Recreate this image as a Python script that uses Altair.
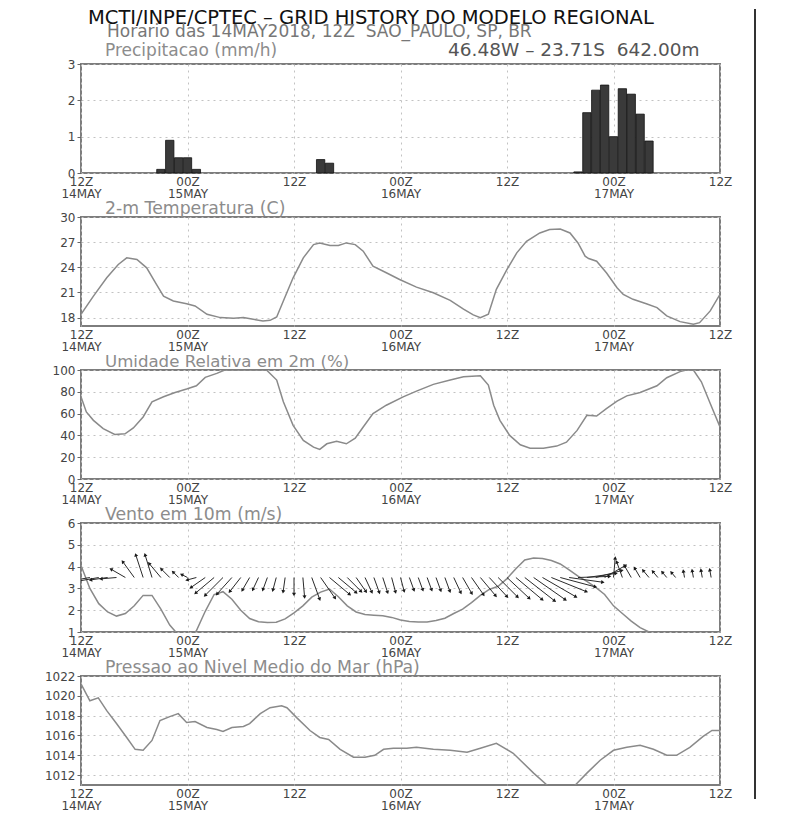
import altair as alt
import pandas as pd
import numpy as np

FONT = "DejaVu Sans"
NB = "\u00a0"

# ---------------- header texts ----------------
main_title = "MCTI/INPE/CPTEC – GRID HISTORY DO MODELO REGIONAL"
sub_title = "Horario das 14MAY2018, 12Z" + NB + NB + "SAO_PAULO, SP, BR"
location = "46.48W – 23.71S" + NB + NB + "642.00m"
panel_titles = ["Precipitacao (mm/h)", "2-m Temperatura (C)", "Umidade Relativa em 2m (%)",
                "Vento em 10m (m/s)", "Pressao ao Nivel Medio do Mar (hPa)"]

# ---------------- time axis (hours after 12Z 14MAY) ----------------
x_ticks = [0, 12, 24, 36, 48, 60, 72]
x_time = ["12Z", "00Z", "12Z", "00Z", "12Z", "00Z", "12Z"]
x_date = ["14MAY", "15MAY", "", "16MAY", "", "17MAY", ""]

# ---------------- precipitation (mm/h) ----------------
pr_h = [9, 10, 11, 12, 13, 27, 28, 56, 57, 58, 59, 60, 61, 62, 63, 64]
pr_v = [0.1, 0.9, 0.42, 0.42, 0.1, 0.37, 0.27, 0.03, 1.66, 2.28, 2.42, 1.0, 2.32, 2.17, 1.62, 0.88]

# ---------------- 2 m temperature (C) ----------------
t_h = [0, 1.4, 2.9, 4.2, 5.15, 6.3, 7.4, 8.5, 9.3, 10.4, 11.9, 12.85, 14.2, 15.7, 17.2, 18.3, 19.4,
       20.5, 21.3, 22.05, 22.8, 23.9, 25.05, 26.2, 26.9, 28.06, 29, 29.9, 30.9, 31.8, 32.9, 34.4,
       35.9, 37.8, 39.7, 41.6, 43.1, 44.2, 45, 45.9, 46.8, 48, 49.1, 50.2, 51.7, 52.8, 54, 55.1,
       56, 56.8, 57.2, 58.1, 59.2, 60.4, 61.1, 62.2, 63.7, 64.9, 66, 67.5, 69, 69.7, 70.9, 72]
t_v = [18.4, 20.57, 22.75, 24.34, 25.13, 24.93, 23.94, 21.96, 20.57, 19.98, 19.66, 19.39, 18.4,
       18.0, 17.92, 18.0, 17.8, 17.6, 17.68, 18.08, 19.98, 22.75, 25.13, 26.71, 26.91, 26.6, 26.6,
       26.91, 26.71, 25.92, 24.14, 23.35, 22.55, 21.64, 20.97, 20.06, 19.0, 18.32, 18.0, 18.4,
       21.37, 23.74, 25.72, 27.1, 28.1, 28.5, 28.57, 28.1, 26.9, 25.33, 25.05, 24.73, 23.35,
       21.56, 20.77, 20.18, 19.66, 19.19, 18.2, 17.52, 17.2, 17.4, 18.8, 20.77]

# ---------------- relative humidity (%) ----------------
rh_h = [0, 0.6, 1.4, 2.5, 3.8, 4.96, 5.9, 7.0, 8.0, 9.3, 10.6, 11.9, 13.0, 14.0, 15.3, 16.2, 20.9,
        22.05, 22.8, 23.9, 25.05, 26.2, 26.9, 27.7, 28.8, 29.9, 30.9, 31.8, 32.9, 34.4, 36.3,
        37.8, 39.7, 41.6, 43.1, 45.0, 45.9, 46.5, 47.2, 48.3, 49.5, 50.6, 52.1, 53.6, 54.7,
        55.9, 57.0, 58.1, 59.2, 60.4, 61.5, 63.0, 64.9, 66.0, 67.5, 68.2, 69.0, 69.9, 70.9, 72]
rh_v = [75.4, 61.5, 53.8, 46.2, 40.9, 41.5, 46.8, 56.9, 70.8, 75.4, 79.4, 82.5, 85.5, 93.2, 96.9,
        100, 100, 90.8, 70.8, 49.2, 35.4, 29.2, 27.1, 32.3, 34.5, 32.3, 37.5, 47.7, 60, 67.7,
        75.4, 80.6, 86.8, 90.8, 93.8, 94.8, 86.2, 67.7, 53.8, 40, 31.4, 28.3, 28.3, 30.2, 33.8,
        44.6, 58.5, 57.8, 64.6, 71.4, 76.3, 79.4, 85.5, 92.9, 98.5, 100, 100, 89.2, 69.2, 47.7]

# ---------------- 10 m wind: hourly speed (m/s) and direction (deg, from) ----------------
w_h = list(range(0, 73))
w_spd = [4.05, 3.0, 2.3, 1.92, 1.73, 1.85, 2.2, 2.68, 2.68, 2.05, 1.32, 0.85, 0.7, 1.05, 1.95,
         2.72, 2.85, 2.5, 2.0, 1.62, 1.47, 1.44, 1.45, 1.6, 1.88, 2.2, 2.6, 2.83, 2.97, 2.62,
         2.2, 1.92, 1.8, 1.77, 1.74, 1.67, 1.55, 1.48, 1.46, 1.46, 1.53, 1.63, 1.85, 2.05, 2.35,
         2.68, 2.95, 3.1, 3.45, 3.9, 4.3, 4.39, 4.37, 4.28, 4.12, 3.85, 3.56, 3.32, 3.05, 2.72,
         2.2, 1.85, 1.5, 1.2, 1.0, 0.85, 0.75, 0.7, 0.7, 0.75, 0.8, 0.85, 0.9]
w_dir = [80, 80, 80, 82, 85, 120, 144, 162, 163, 140, 135, 135, 117, 75, 55, 50, 45, 42, 38, 30,
         25, 20, 15, 8, 0, 355, 340, 325, 310, 310, 315, 325, 335, 340, 342, 345, 345, 340, 340,
         340, 340, 340, 335, 330, 325, 320, 317, 315, 313, 310, 308, 305, 300, 292, 285, 278,
         268, 262, 255, 240, 185, 160, 150, 150, 140, 140, 140, 140, 170, 170, 170, 170, 170]
arrow_level = 3.5

# ---------------- sea level pressure (hPa) ----------------
p_h = [0, 1.0, 1.95, 2.9, 4.0, 5.15, 6.1, 7.0, 8.0, 8.9, 10.0, 10.96, 11.9, 12.85, 14.2, 15.3, 16.0,
       17.0, 18.3, 19.0, 20.2, 21.3, 22.6, 23.2, 24.3, 25.8, 26.9, 27.9, 29.2, 30.7, 32.0, 33.1,
       34.1, 35.2, 36.7, 37.8, 39.7, 41.6, 43.5, 45.0, 46.8, 48.7, 51.0, 52.5, 53.5, 54.6, 55.7,
       57.0, 58.5, 60.0, 61.5, 63.0, 64.5, 66.0, 67.1, 68.6, 70.1, 71.1, 72]
p_v = [1021.2, 1019.5, 1019.8, 1018.5, 1017.2, 1015.8, 1014.6, 1014.5, 1015.5, 1017.5, 1017.9,
       1018.2, 1017.3, 1017.4, 1016.8, 1016.6, 1016.4, 1016.8, 1016.9, 1017.2, 1018.2, 1018.8,
       1019.0, 1018.8, 1017.8, 1016.5, 1015.8, 1015.6, 1014.6, 1013.8, 1013.8, 1014.0, 1014.6,
       1014.7, 1014.7, 1014.8, 1014.6, 1014.5, 1014.3, 1014.7, 1015.2, 1014.2, 1012.2, 1011.0,
       1010.5, 1010.5, 1011.0, 1012.2, 1013.5, 1014.5, 1014.8, 1015.0, 1014.6, 1014.0, 1014.0,
       1014.8, 1015.9, 1016.5, 1016.5]

# ---------------- layout ----------------
W, H, GAP = 639, 109, 44
LINE_C = "#8a8a8a"
TITLE_C = "#8c8c8c"
LABEL_C = "#444444"


def x_label_expr():
    parts = []
    for h, t, d in zip(x_ticks, x_time, x_date):
        lab = f"['{t}','{d}']" if d else f"'{t}'"
        parts.append(f"datum.value == {h} ? {lab} : ")
    return "".join(parts) + "''"


x_scale = alt.Scale(domain=[0, 72], nice=False, zero=False)
x_axis = alt.Axis(values=x_ticks, labelExpr=x_label_expr(), ticks=False, labelFlush=False,
                  labelOverlap=False, labelPadding=3, labelLineHeight=12.5, labelFontSize=12,
                  title=None, grid=True)


def y_axis(vals):
    return alt.Axis(values=vals, title=None, tickSize=4, labelPadding=2, grid=True, format="d",
                    labelOverlap=False, labelFlush=False)


def title_layer(text, size=17.3, dy=-3):
    return alt.Chart(pd.DataFrame({"t": [text]})).mark_text(
        align="left", baseline="alphabetic", font=FONT, fontSize=size, color=TITLE_C
    ).encode(text="t:N", x=alt.value(24), y=alt.value(dy))


# Panel 1: precipitation
pr_df = pd.DataFrame({"h": pr_h, "v": pr_v})
pr_df["h0"] = pr_df["h"] - 0.47
pr_df["h1"] = pr_df["h"] + 0.47
pr_df["z"] = 0.0
bars = alt.Chart(pr_df).mark_rect(color="#3a3a3a", stroke="#111111", strokeWidth=0.8).encode(
    x=alt.X("h0:Q", scale=x_scale, axis=x_axis),
    x2="h1:Q",
    y=alt.Y("v:Q", scale=alt.Scale(domain=[0, 3], nice=False), axis=y_axis([0, 1, 2, 3])),
    y2="z:Q",
)
hdr_main = alt.Chart(pd.DataFrame({"t": [main_title]})).mark_text(
    align="left", baseline="alphabetic", font=FONT, fontSize=19.5, color="#111111").encode(
    text="t:N", x=alt.value(7), y=alt.value(-40))
hdr_sub = alt.Chart(pd.DataFrame({"t": [sub_title]})).mark_text(
    align="left", baseline="alphabetic", font=FONT, fontSize=17, color="#777777").encode(
    text="t:N", x=alt.value(26), y=alt.value(-27))
hdr_loc = alt.Chart(pd.DataFrame({"t": [location]})).mark_text(
    align="left", baseline="alphabetic", font=FONT, fontSize=18.5, color="#555555").encode(
    text="t:N", x=alt.value(367), y=alt.value(-8))
# invisible left anchor keeps the plot area at the reference's left offset
anchor_left = alt.Chart(pd.DataFrame({"a": [0]})).mark_rule(strokeOpacity=0, strokeWidth=2).encode(
    x=alt.value(-72), x2=alt.value(0), y=alt.value(-30))
frame_right = alt.Chart(pd.DataFrame({"a": [0]})).mark_rule(color="#333333", strokeWidth=2).encode(
    x=alt.value(674), y=alt.value(-55), y2=alt.value(735))
p1 = alt.layer(bars, title_layer(panel_titles[0], 17, -8), hdr_main, hdr_sub, hdr_loc,
               anchor_left, frame_right).properties(width=W, height=H)

# Panel 2: temperature
t_df = pd.DataFrame({"h": t_h, "v": t_v})
t_line = alt.Chart(t_df).mark_line(color=LINE_C, strokeWidth=1.5, clip=True).encode(
    x=alt.X("h:Q", scale=x_scale, axis=x_axis),
    y=alt.Y("v:Q", scale=alt.Scale(domain=[17, 30], nice=False, zero=False),
            axis=y_axis([18, 21, 24, 27, 30])),
)
p2 = alt.layer(t_line, title_layer(panel_titles[1])).properties(width=W, height=H)

# Panel 3: relative humidity
rh_df = pd.DataFrame({"h": rh_h, "v": rh_v})
rh_line = alt.Chart(rh_df).mark_line(color=LINE_C, strokeWidth=1.5, clip=True).encode(
    x=alt.X("h:Q", scale=x_scale, axis=x_axis),
    y=alt.Y("v:Q", scale=alt.Scale(domain=[0, 100], nice=False),
            axis=y_axis([0, 20, 40, 60, 80, 100])),
)
p3 = alt.layer(rh_line, title_layer(panel_titles[2], 16.6)).properties(width=W, height=H)

# Panel 4: wind speed + vectors
PX_PER_MS = 8.7          # arrow length scale (pixels per m/s)
px_per_h = W / 72.0
px_per_unit = H / 5.0
w_df = pd.DataFrame({"h": w_h, "spd": w_spd, "dir": w_dir})
rad = np.deg2rad(w_df["dir"])
w_df["u"] = -w_df["spd"] * np.sin(rad)
w_df["v"] = -w_df["spd"] * np.cos(rad)
w_df["y0"] = arrow_level
w_df["hx"] = w_df["h"] + w_df["u"] * PX_PER_MS / px_per_h
w_df["hy"] = arrow_level + w_df["v"] * PX_PER_MS / px_per_unit
w_df["ang"] = np.mod(np.rad2deg(np.arctan2(w_df["u"], w_df["v"])), 360)
w_vec = w_df[w_df["h"] < 72]

y_w = alt.Scale(domain=[1, 6], nice=False, zero=False)
w_yaxis = y_axis([1, 2, 3, 4, 5, 6])
w_line = alt.Chart(w_df).mark_line(color=LINE_C, strokeWidth=1.5, clip=True).encode(
    x=alt.X("h:Q", scale=x_scale, axis=x_axis),
    y=alt.Y("spd:Q", scale=y_w, axis=w_yaxis),
)
w_shaft = alt.Chart(w_vec).mark_rule(color="#2a2a2a", strokeWidth=1, clip=True).encode(
    x=alt.X("h:Q", scale=x_scale, axis=x_axis),
    y=alt.Y("y0:Q", scale=y_w, axis=w_yaxis),
    x2="hx:Q", y2="hy:Q")
w_head = alt.Chart(w_vec).mark_point(shape="triangle", filled=True, size=16, color="#1a1a1a",
                                     opacity=1, clip=True).encode(
    x=alt.X("hx:Q", scale=x_scale, axis=x_axis),
    y=alt.Y("hy:Q", scale=y_w, axis=w_yaxis),
    angle=alt.Angle("ang:Q", scale=None))
p4 = alt.layer(w_line, w_shaft, w_head, title_layer(panel_titles[3])).properties(
    width=W, height=H)

# Panel 5: pressure
p_df = pd.DataFrame({"h": p_h, "v": p_v})
p_line = alt.Chart(p_df).mark_line(color=LINE_C, strokeWidth=1.5, clip=True).encode(
    x=alt.X("h:Q", scale=x_scale, axis=x_axis),
    y=alt.Y("v:Q", scale=alt.Scale(domain=[1011, 1022], nice=False, zero=False),
            axis=y_axis([1012, 1014, 1016, 1018, 1020, 1022])),
)
p5 = alt.layer(p_line, title_layer(panel_titles[4])).properties(width=W, height=H)

chart = alt.vconcat(p1, p2, p3, p4, p5, spacing=GAP, bounds="flush").properties(
    padding={"top": -1, "left": 0, "right": 0, "bottom": 0}
).configure_view(
    stroke="#7d7d7d", strokeWidth=2
).configure_axis(
    labelFont=FONT, labelColor=LABEL_C, labelFontSize=12, gridColor="#c2c2c2",
    gridDash=[2, 4], gridWidth=1, domain=False, tickColor="#666666"
)

chart.save("out.html", embed_options={"renderer": "svg", "actions": False})
